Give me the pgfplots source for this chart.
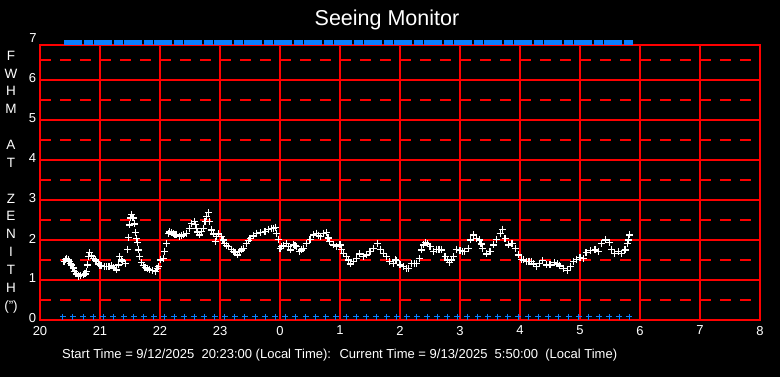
\documentclass[border=0pt]{standalone}
\usepackage{pgfplots}
\pgfplotsset{compat=1.18}
\usepackage{fontspec}
\setmainfont{Liberation Sans}
\definecolor{gridred}{RGB}{255,0,0}
\definecolor{markblue}{RGB}{10,128,255}
\pgfdeclareplotmark{hblock}{\pgfpathrectangle{\pgfpoint{-4.5bp}{-2.6bp}}{\pgfpoint{9bp}{5.2bp}}\pgfusepathqfill}
\begin{document}
\begin{tikzpicture}
\useasboundingbox (-40bp,-57bp) rectangle (740bp,320bp);
\fill[black] (-40bp,-57bp) rectangle (740bp,320bp);
\begin{axis}[
  at={(0,0)}, anchor=south west,
  scale only axis, width=720bp, height=275bp,
  xmin=20, xmax=32, ymin=0, ymax=6.875,
  clip=false,
  xtick={20,21,...,32},
  xticklabels={20,21,22,23,0,1,2,3,4,5,6,7,8},
  ytick={0,1,...,6},
  minor ytick={0.5,1.5,...,6.5},
  major tick length=0pt, minor tick length=0pt,
  axis line style={gridred, line width=1.3bp},
  grid=both,
  major grid style={gridred, line width=1.3bp},
  minor grid style={gridred, line width=1.3bp, dash pattern=on 11bp off 9bp},
  tick label style={white, font=\fontsize{13bp}{15bp}\selectfont},
  /pgf/number format/assume math mode=true,
  xticklabel style={yshift=-2.5bp},
  yticklabel style={xshift=-0.5bp, yshift=1.5bp},
]
% blue status marks at the top
\addplot[only marks, mark=hblock, color=markblue] coordinates {
(20.467,6.94) (20.633,6.94) (20.800,6.94) (20.967,6.94) (21.133,6.94) (21.300,6.94)
(21.467,6.94) (21.633,6.94) (21.800,6.94) (21.967,6.94) (22.133,6.94) (22.300,6.94)
(22.467,6.94) (22.633,6.94) (22.800,6.94) (22.967,6.94) (23.133,6.94) (23.300,6.94)
(23.467,6.94) (23.633,6.94) (23.800,6.94) (23.967,6.94) (24.133,6.94) (24.300,6.94)
(24.467,6.94) (24.633,6.94) (24.800,6.94) (24.967,6.94) (25.133,6.94) (25.300,6.94)
(25.467,6.94) (25.633,6.94) (25.800,6.94) (25.967,6.94) (26.133,6.94) (26.300,6.94)
(26.467,6.94) (26.633,6.94) (26.800,6.94) (26.967,6.94) (27.133,6.94) (27.300,6.94)
(27.467,6.94) (27.633,6.94) (27.800,6.94) (27.967,6.94) (28.133,6.94) (28.300,6.94)
(28.467,6.94) (28.633,6.94) (28.800,6.94) (28.967,6.94) (29.133,6.94) (29.300,6.94)
(29.467,6.94) (29.633,6.94) (29.800,6.94)
};
% blue marks at the bottom
\addplot[only marks, mark=+, mark size=3bp, color=markblue, line width=0.9bp] coordinates {
(20.380,0.08) (20.549,0.08) (20.717,0.08) (20.886,0.08) (21.054,0.08) (21.223,0.08)
(21.392,0.08) (21.560,0.08) (21.729,0.08) (21.897,0.08) (22.066,0.08) (22.235,0.08)
(22.403,0.08) (22.572,0.08) (22.740,0.08) (22.909,0.08) (23.078,0.08) (23.246,0.08)
(23.415,0.08) (23.583,0.08) (23.752,0.08) (23.921,0.08) (24.089,0.08) (24.258,0.08)
(24.426,0.08) (24.595,0.08) (24.764,0.08) (24.932,0.08) (25.101,0.08) (25.269,0.08)
(25.438,0.08) (25.607,0.08) (25.775,0.08) (25.944,0.08) (26.112,0.08) (26.281,0.08)
(26.450,0.08) (26.618,0.08) (26.787,0.08) (26.955,0.08) (27.124,0.08) (27.293,0.08)
(27.461,0.08) (27.630,0.08) (27.798,0.08) (27.967,0.08) (28.136,0.08) (28.304,0.08)
(28.473,0.08) (28.641,0.08) (28.810,0.08) (28.979,0.08) (29.147,0.08) (29.316,0.08)
(29.484,0.08) (29.653,0.08) (29.822,0.08)
};
% seeing FWHM data
\addplot[only marks, mark=+, mark size=3.5bp, color=white, line width=1.1bp] coordinates {
(20.40,1.46) (20.42,1.52) (20.44,1.54) (20.47,1.50) (20.49,1.46) (20.51,1.42)
(20.53,1.375) (20.55,1.30) (20.57,1.21) (20.60,1.15) (20.64,1.10) (20.68,1.11)
(20.72,1.125) (20.75,1.15) (20.77,1.21) (20.79,1.375) (20.81,1.58) (20.83,1.68)
(20.86,1.60) (20.89,1.54) (20.92,1.50) (20.94,1.46) (20.97,1.40) (21.00,1.37)
(21.03,1.35) (21.07,1.33) (21.11,1.33) (21.15,1.34) (21.19,1.35) (21.23,1.30)
(21.27,1.25) (21.31,1.375) (21.33,1.58) (21.36,1.50) (21.38,1.46) (21.43,1.42)
(21.46,1.77) (21.47,2.07) (21.49,2.375) (21.51,2.55) (21.53,2.64) (21.55,2.55)
(21.57,2.40) (21.59,2.18) (21.61,2.04) (21.63,1.93) (21.64,1.75) (21.66,1.58)
(21.69,1.43) (21.72,1.37) (21.75,1.32) (21.79,1.28) (21.83,1.25) (21.87,1.24)
(21.92,1.22) (21.95,1.28) (21.97,1.33) (22.01,1.50) (22.06,1.54) (22.08,1.71)
(22.11,1.92) (22.14,2.17) (22.16,2.20) (22.19,2.18) (22.22,2.15) (22.25,2.125)
(22.28,2.125) (22.33,2.08) (22.36,2.10) (22.39,2.125) (22.44,2.17) (22.49,2.29)
(22.53,2.42) (22.57,2.46) (22.59,2.38) (22.61,2.29) (22.63,2.20) (22.66,2.125)
(22.69,2.21) (22.72,2.29) (22.75,2.46) (22.78,2.58) (22.81,2.68) (22.83,2.46)
(22.86,2.25) (22.89,2.15) (22.92,1.96) (22.94,2.08) (22.98,2.15) (23.03,2.08)
(23.05,2.00) (23.08,1.92) (23.11,1.87) (23.14,1.83) (23.19,1.77) (23.22,1.72)
(23.25,1.68) (23.29,1.625) (23.33,1.71) (23.36,1.75) (23.39,1.79) (23.44,1.92)
(23.47,1.98) (23.50,2.04) (23.56,2.10) (23.61,2.17) (23.68,2.18) (23.75,2.21)
(23.81,2.27) (23.86,2.29) (23.89,2.29) (23.92,2.32) (23.94,2.17) (23.97,2.02)
(24.00,1.78) (24.03,1.83) (24.06,1.86) (24.11,1.91) (24.14,1.83) (24.17,1.75)
(24.22,1.875) (24.25,1.86) (24.28,1.83) (24.33,1.71) (24.36,1.75) (24.39,1.79)
(24.44,1.92) (24.50,2.02) (24.56,2.125) (24.61,2.17) (24.64,2.12) (24.67,2.08)
(24.72,2.17) (24.78,2.18) (24.80,2.05) (24.83,1.96) (24.89,1.875) (24.94,1.83)
(25.00,1.875) (25.03,1.77) (25.06,1.67) (25.11,1.58) (25.14,1.50) (25.17,1.40)
(25.22,1.46) (25.28,1.54) (25.33,1.65) (25.39,1.58) (25.44,1.625) (25.50,1.71)
(25.56,1.79) (25.62,1.92) (25.67,1.77) (25.72,1.67) (25.78,1.58) (25.83,1.46)
(25.89,1.42) (25.92,1.50) (25.94,1.48) (26.00,1.375) (26.06,1.33) (26.11,1.29)
(26.14,1.29) (26.19,1.42) (26.24,1.42) (26.28,1.42) (26.32,1.54) (26.36,1.75)
(26.39,1.875) (26.43,1.93) (26.46,1.90) (26.50,1.83) (26.56,1.71) (26.61,1.77)
(26.65,1.77) (26.69,1.75) (26.75,1.58) (26.79,1.50) (26.82,1.43) (26.86,1.50)
(26.89,1.58) (26.94,1.77) (27.00,1.73) (27.04,1.71) (27.08,1.71) (27.14,1.79)
(27.18,2.00) (27.22,2.125) (27.27,2.04) (27.32,2.00) (27.35,1.90) (27.38,1.79)
(27.44,1.65) (27.50,1.71) (27.56,1.875) (27.61,2.02) (27.67,2.17) (27.71,2.27)
(27.75,2.04) (27.81,1.875) (27.86,1.92) (27.88,1.92) (27.92,1.79) (27.97,1.625)
(28.03,1.52) (28.06,1.50) (28.11,1.47) (28.15,1.47) (28.19,1.46) (28.23,1.40)
(28.27,1.33) (28.33,1.42) (28.38,1.48) (28.44,1.375) (28.50,1.375) (28.58,1.43)
(28.62,1.40) (28.66,1.35) (28.72,1.29) (28.79,1.23) (28.84,1.33) (28.89,1.46)
(28.94,1.52) (29.00,1.57) (29.06,1.54) (29.10,1.68) (29.17,1.73) (29.25,1.75)
(29.31,1.71) (29.36,1.92) (29.43,2.00) (29.49,1.93) (29.53,1.77) (29.58,1.67)
(29.64,1.71) (29.69,1.67) (29.75,1.75) (29.79,1.92) (29.81,2.00) (29.83,2.125)
};
\node[anchor=east, white, font=\fontsize{13bp}{15bp}\selectfont, inner xsep=3.333pt] at (axis cs:20,7.04) {7};
\end{axis}
\node[white, font=\fontsize{21.5bp}{25bp}\selectfont] at (347bp,300bp) {Seeing Monitor};
\node[white, font=\fontsize{13.5bp}{17.86bp}\selectfont, align=center, inner sep=0pt] at (-29bp,138bp)
  {F\\W\\H\\M\\\mbox{}\\A\\T\\\mbox{}\\Z\\E\\N\\I\\T\\H\\(")};
\node[white, anchor=west, font=\fontsize{13bp}{15bp}\selectfont, inner sep=0pt] at (22bp,-35bp)
  {Start Time = 9/12/2025~ 20:23:00 (Local Time):~ Current Time = 9/13/2025~ 5:50:00~ (Local Time)};
\end{tikzpicture}
\end{document}
